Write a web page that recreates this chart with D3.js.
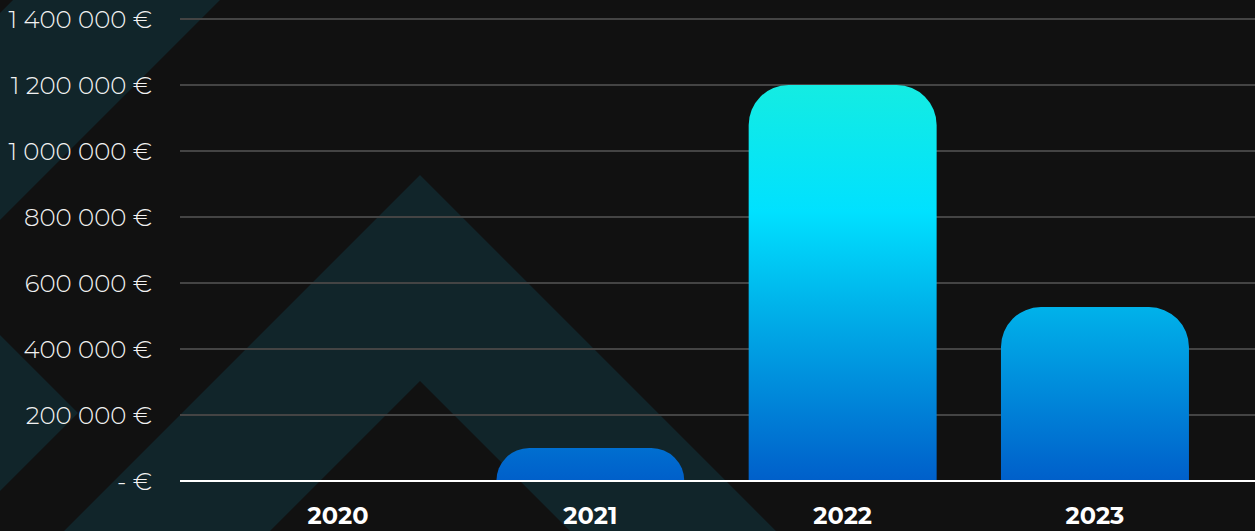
<!DOCTYPE html>
<html><head><meta charset="utf-8">
<script src="https://cdn.jsdelivr.net/npm/d3@7"></script>
<style>
html,body{margin:0;padding:0;background:#111111;}
svg{display:block;}
</style></head>
<body>
<svg id="chart" width="1255" height="531"></svg>
<script>
const categories = ["2020", "2021", "2022", "2023"];
const values = [0, 100000, 1200000, 527000];
const tickValues = [0, 200000, 400000, 600000, 800000, 1000000, 1200000, 1400000];
const tickLabels = ["- €", "200 000 €", "400 000 €", "600 000 €", "800 000 €", "1 000 000 €", "1 200 000 €", "1 400 000 €"];

const W = 1255, H = 531;
const svg = d3.select("#chart");

// background decorations
const deco = svg.append("g").attr("fill", "#11252a");
deco.append("path").attr("d", "M13,0 L220,0 L0,220 L0,13 Z");
deco.append("path").attr("d", "M0,335 L78,413 L0,491 Z");
deco.append("path").attr("d", "M420,175 L776,531 L570,531 L420,381 L270,531 L64,531 Z");

const y = d3.scaleLinear().domain([0, 1400000]).range([481, 19]);
const x = d3.scaleBand().domain(categories).range([212, 1221]).paddingInner(0.255).paddingOuter(0.127);

// gradient
const defs = svg.append("defs");
const grad = defs.append("linearGradient").attr("id", "barGrad")
  .attr("gradientUnits", "userSpaceOnUse").attr("x1", 0).attr("x2", 0)
  .attr("y1", y(0)).attr("y2", y(1200000));
[[0, "#005fca"], [0.44, "#00b2ea"], [0.68, "#00e1ff"], [1, "#14ece2"]].forEach(([o, c]) =>
  grad.append("stop").attr("offset", o).attr("stop-color", c));

// gridlines
svg.append("g").selectAll("line").data(tickValues.filter(d => d > 0)).join("line")
  .attr("x1", 180).attr("x2", W)
  .attr("y1", d => y(d)).attr("y2", d => y(d))
  .attr("stroke", "#444444").attr("stroke-width", 2);

// y labels
svg.append("g").selectAll("text").data(tickValues).join("text")
  .attr("x", 152).attr("y", d => y(d))
  .attr("dy", "0.36em")
  .attr("text-anchor", "end")
  .attr("fill", "#f2f2f2")
  .style("font-family", "Montserrat, 'Open Sans', Lato, sans-serif")
  .style("font-weight", 300)
  .style("font-size", "24.5px")
  .text((d, i) => tickLabels[i]);

// bars with rounded tops
function barPath(d) {
  const x0 = x(d.cat), w = x.bandwidth();
  const yb = y(0), yt = y(d.val);
  const h = yb - yt;
  if (h <= 0) return "";
  const r = Math.min(40, h, w / 2);
  return `M${x0},${yb} L${x0},${yt + r} A${r},${r} 0 0 1 ${x0 + r},${yt} L${x0 + w - r},${yt} A${r},${r} 0 0 1 ${x0 + w},${yt + r} L${x0 + w},${yb} Z`;
}
svg.append("g").selectAll("path").data(categories.map((c, i) => ({cat: c, val: values[i]}))).join("path")
  .attr("d", barPath)
  .attr("fill", "url(#barGrad)");

// zero line
svg.append("line").attr("x1", 180).attr("x2", W).attr("y1", y(0)).attr("y2", y(0))
  .attr("stroke", "#ffffff").attr("stroke-width", 2);

// x labels
svg.append("g").selectAll("text").data(categories).join("text")
  .attr("x", d => x(d) + x.bandwidth() / 2)
  .attr("y", 524)
  .attr("text-anchor", "middle")
  .attr("fill", "#ffffff")
  .style("font-family", "Montserrat, 'Open Sans', Lato, sans-serif")
  .style("font-weight", 700)
  .style("font-size", "24px")
  .text(d => d);
</script>
</body></html>
